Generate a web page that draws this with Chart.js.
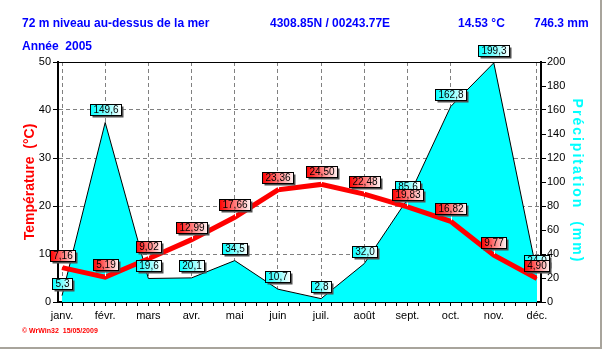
<!DOCTYPE html>
<html>
<head>
<meta charset="utf-8">
<script src="https://cdn.jsdelivr.net/npm/chart.js@4.4.0/dist/chart.umd.min.js"></script>
<style>
  html, body { margin: 0; padding: 0; background: #fff; }
  canvas { display: block; }
</style>
</head>
<body>
<canvas id="myChart" width="603" height="351"></canvas>
<script>
const months = ['janv.', 'févr.', 'mars', 'avr.', 'mai', 'juin', 'juil.', 'août', 'sept.', 'oct.', 'nov.', 'déc.']
const temperature = [7.16, 5.19, 9.02, 12.99, 17.66, 23.36, 24.50, 22.48, 19.83, 16.82, 9.77, 4.90]
const precipitation = [5.3, 149.6, 19.6, 20.1, 34.5, 10.7, 2.8, 32.0, 85.6, 162.8, 199.3, 24.0]
const tempTicks = [0, 10, 20, 30, 40, 50]
const precTicks = [0, 20, 40, 60, 80, 100, 120, 140, 160, 180, 200]
const header = ['72 m niveau au-dessus de la mer', '4308.85N / 00243.77E', '14.53 °C', '746.3 mm']
const yearLabel = 'Année  2005'
const tempTitle = 'Température  (°C)'
const precTitle = 'Précipitation  (mm)'
const footer = '© WrWin32  15/05/2009'

const ctx = document.getElementById('myChart').getContext('2d')

const tickFont = { family: '"Liberation Sans", Arial, sans-serif', size: 11 }

// month ticks plus three small ones in between
const xTicks = []
months.forEach((m, i) => {
	xTicks.push(i)
	if (i < months.length - 1) xTicks.push(i + 0.25, i + 0.5, i + 0.75)
})

const fmt = (v, d) => v.toFixed(d).replace('.', ',')

function drawBoxes(chart, index, values, digits, colors, whiteTick) {
	const c = chart.ctx
	const meta = chart.getDatasetMeta(index)
	c.save()
	c.font = '10px "Liberation Sans", Arial, sans-serif'
	c.textAlign = 'center'
	c.textBaseline = 'middle'
	values.forEach((v, i) => {
		const pt = meta.data[i]
		const txt = fmt(v, digits)
		const w = Math.round(c.measureText(txt).width) + 6
		const h = 11
		const x = Math.round(pt.x - w / 2) + 0.5
		const y = Math.round(pt.y - 7 - h) + 0.5
		if (whiteTick) {
			c.strokeStyle = '#fff'
			c.lineWidth = 1
			c.beginPath()
			c.moveTo(Math.round(pt.x) + 0.5, y + h)
			c.lineTo(Math.round(pt.x) + 0.5, pt.y - 1)
			c.stroke()
		}
		c.fillStyle = '#505050'
		c.fillRect(x + 2, y + 2, w, h)
		const g = c.createLinearGradient(x, 0, x + w, 0)
		g.addColorStop(0, colors[0])
		g.addColorStop(1, colors[1])
		c.fillStyle = g
		c.fillRect(x, y, w, h)
		c.strokeStyle = '#000'
		c.strokeRect(x, y, w, h)
		c.fillStyle = '#000'
		c.fillText(txt, x + w / 2, y + h / 2 + 0.5)
	})
	c.restore()
}

const decorations = {
	id: 'decorations',
	afterDatasetsDraw(chart) {
		const c = chart.ctx
		const a = chart.chartArea
		// top frame line
		c.save()
		c.strokeStyle = '#000'
		c.lineWidth = 1
		c.beginPath()
		c.moveTo(a.left, a.top + 0.5)
		c.lineTo(a.right, a.top + 0.5)
		c.stroke()
		c.restore()
		drawBoxes(chart, 1, precipitation, 1, ['#00FFFF', '#FFFFFF'], false)
		drawBoxes(chart, 0, temperature, 2, ['#FF0000', '#FFF4F4'], true)
	},
	afterDraw(chart) {
		const c = chart.ctx
		c.save()
		c.textBaseline = 'middle'
		c.fillStyle = '#0000FF'
		c.font = 'bold 12px "Liberation Sans", Arial, sans-serif'
		const hx = [22, 270, 458, 534]
		header.forEach((t, i) => c.fillText(t, hx[i], 24))
		c.fillText(yearLabel, 22, 47)

		c.font = 'bold 14px "Liberation Sans", Arial, sans-serif'
		c.textAlign = 'center'
		c.save()
		c.translate(30, 182)
		c.rotate(-Math.PI / 2)
		c.fillStyle = '#FF0000'
		c.fillText(tempTitle, 0, 0)
		c.restore()

		c.save()
		c.translate(577, 181)
		c.rotate(Math.PI / 2)
		c.fillStyle = '#00FFFF'
		c.letterSpacing = '2px'
		c.fillText(precTitle, 0, 0)
		c.restore()

		c.textAlign = 'left'
		c.fillStyle = '#FF0000'
		c.font = 'bold 7px "Liberation Sans", Arial, sans-serif'
		c.fillText(footer, 22, 331)

		// window edge
		c.strokeStyle = '#A8A49C'
		c.lineWidth = 2
		c.beginPath()
		c.moveTo(601, 0)
		c.lineTo(601, 348)
		c.lineTo(0, 348)
		c.stroke()
		c.restore()
	}
}

const myChart = new Chart(ctx, {
	type: 'line',
	data: {
		datasets: [{
			label: 'Température',
			data: temperature.map((v, i) => ({ x: i, y: v })),
			yAxisID: 'y',
			borderColor: '#FF0000',
			borderWidth: 5,
			pointRadius: 0,
			tension: 0,
			fill: false,
			order: 0
		}, {
			label: 'Précipitation',
			data: precipitation.map((v, i) => ({ x: i, y: v })),
			yAxisID: 'y2',
			borderColor: '#000000',
			borderWidth: 1,
			backgroundColor: '#00FFFF',
			pointRadius: 0,
			tension: 0,
			fill: 'origin',
			order: 1
		}]
	},
	options: {
		responsive: false,
		animation: false,
		devicePixelRatio: 1,
		layout: { padding: { top: 62, left: 0, right: 0, bottom: 0 } },
		plugins: {
			legend: { display: false },
			tooltip: { enabled: false }
		},
		scales: {
			x: {
				type: 'linear',
				min: -0.093,
				max: 11.093,
				afterBuildTicks: s => { s.ticks = xTicks.map(v => ({ value: v })) },
				afterFit: s => { s.height = 49 },
				ticks: {
					autoSkip: false,
					maxRotation: 0,
					padding: 3,
					color: '#000',
					font: tickFont,
					callback: v => Number.isInteger(v) ? months[v] : ''
				},
				grid: {
					color: c => (c.tick && Number.isInteger(c.tick.value)) ? '#808080' : 'rgba(0,0,0,0)',
					tickColor: '#000',
					tickLength: 4,
					lineWidth: 1
				},
				border: { color: '#000', width: 2, dash: [4, 3] }
			},
			y: {
				position: 'left',
				min: 0,
				max: 50,
				afterBuildTicks: s => { s.ticks = tempTicks.map(v => ({ value: v })) },
				afterFit: s => { s.width = 58 },
				ticks: { padding: 2, color: '#000', font: tickFont },
				grid: {
					color: c => (c.tick && c.tick.value > 0 && c.tick.value < 50) ? '#808080' : 'rgba(0,0,0,0)',
					tickColor: '#000',
					tickLength: 5
				},
				border: { color: '#000', width: 2, dash: [4, 3] }
			},
			y2: {
				position: 'right',
				min: 0,
				max: 200,
				afterBuildTicks: s => { s.ticks = precTicks.map(v => ({ value: v })) },
				afterFit: s => { s.width = 62 },
				ticks: { padding: 1, color: '#000', font: tickFont },
				grid: { drawOnChartArea: false, tickColor: '#000', tickLength: 5 },
				border: { color: '#000', width: 2 }
			}
		}
	},
	plugins: [decorations]
})
</script>
</body>
</html>
